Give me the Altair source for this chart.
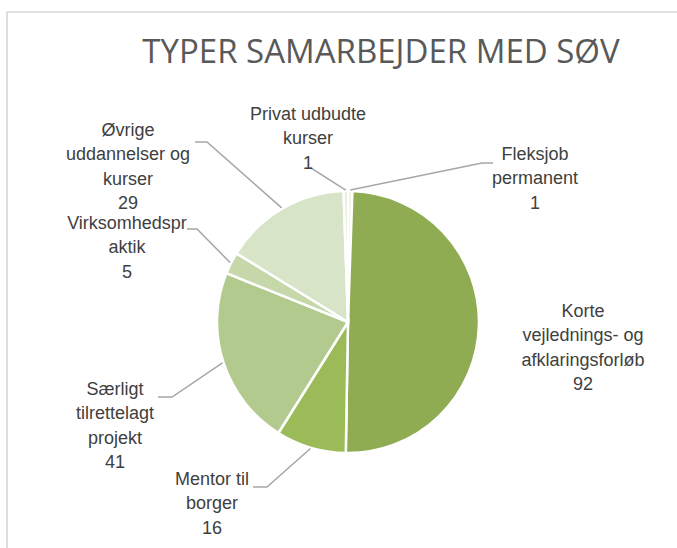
import math
import altair as alt
import pandas as pd

# ---------------- data ----------------
categories = [
    "Fleksjob permanent",
    "Korte vejlednings- og afklaringsforløb",
    "Mentor til borger",
    "Særligt tilrettelagt projekt",
    "Virksomhedspraktik",
    "Øvrige uddannelser og kurser",
    "Privat udbudte kurser",
]
values = [1, 92, 16, 41, 5, 29, 1]
label_lines = [
    ["Fleksjob", "permanent"],
    ["Korte", "vejlednings- og", "afklaringsforløb"],
    ["Mentor til", "borger"],
    ["Særligt", "tilrettelagt", "projekt"],
    ["Virksomhedspr", "aktik"],
    ["Øvrige", "uddannelser og", "kurser"],
    ["Privat udbudte", "kurser"],
]
title_text = "TYPER SAMARBEJDER MED SØV"

# ---------------- styling / layout ----------------
colors = ["#edf2e4", "#8fac52", "#9bbb59", "#b3ca8f", "#c6d8a9", "#d8e4c8", "#e4ecd8"]
CX, CY, R = 348, 322, 131
LH = 24.3
# centre of first label line (x, y)
label_anchor = [(535, 155), (583, 312), (212, 480), (115, 390), (127, 224), (128, 131), (308, 115)]
# leader line elbow and end points (None = no leader)
leader_pts = [
    [(482, 163), (493, 163)],
    None,
    [(267, 487), (253, 487)],
    [(172, 397), (158, 397)],
    [(197, 229), (187, 229)],
    [(207, 142), (195, 142)],
    [(311, 168), (310, 168)],
]
FONT = "Liberation Sans Narrow, Arial Narrow, Liberation Sans, Arial"

# ---------------- tables ----------------
pie_df = pd.DataFrame({"cat": categories, "value": values, "idx": list(range(len(values)))})

total = sum(values)
cum = 0
mids = []
for v in values:
    mids.append((cum + v / 2) / total * 2 * math.pi)
    cum += v

lab_rows = []
for i, lines in enumerate(label_lines):
    x0, y0 = label_anchor[i]
    all_lines = lines + [str(values[i])]
    for j, t in enumerate(all_lines):
        lab_rows.append({"x": x0, "y": y0 + j * LH, "t": t})
lab_df = pd.DataFrame(lab_rows)

lead_rows = []
for i, pts in enumerate(leader_pts):
    if pts is None:
        continue
    a = mids[i]
    sx = CX + (R + 1) * math.sin(a)
    sy = CY - (R + 1) * math.cos(a)
    seq = [(sx, sy)] + pts
    for k, (px, py) in enumerate(seq):
        lead_rows.append({"cat": categories[i], "k": k, "x": px, "y": py})
lead_df = pd.DataFrame(lead_rows)

one = pd.DataFrame({"a": [0]})

# ---------------- marks ----------------
frame = alt.Chart(one).mark_rect(filled=False, stroke="#d9d9d9", strokeWidth=1.7).encode(
    x=alt.value(7), x2=alt.value(760), y=alt.value(12), y2=alt.value(640)
)

pie = alt.Chart(pie_df).mark_arc(outerRadius=R, stroke="white", strokeWidth=2.5).encode(
    theta=alt.Theta("value:Q", stack=True),
    order=alt.Order("idx:Q", sort="ascending"),
    color=alt.Color("cat:N", scale=alt.Scale(domain=categories, range=colors), legend=None),
    x=alt.value(CX),
    y=alt.value(CY),
)

leaders = alt.Chart(lead_df).mark_line(color="#a6a6a6", strokeWidth=1.5).encode(
    x=alt.X("x:Q", scale=None),
    y=alt.Y("y:Q", scale=None),
    detail="cat:N",
    order="k:Q",
)

labels = alt.Chart(lab_df).mark_text(
    font=FONT, fontSize=18, color="#404040", align="center", baseline="middle"
).encode(
    x=alt.X("x:Q", scale=None),
    y=alt.Y("y:Q", scale=None),
    text="t:N",
)

title = alt.Chart(one).mark_text(
    text=title_text, font="Open Sans", fontSize=33, color="#595959",
    align="center", baseline="alphabetic",
).encode(x=alt.value(381), y=alt.value(63))

chart = alt.layer(frame, pie, leaders, labels, title).properties(
    width=677, height=548, autosize="none", padding=0
).configure_view(stroke=None)

chart.save("out.html", embed_options={"renderer": "svg", "actions": False})
